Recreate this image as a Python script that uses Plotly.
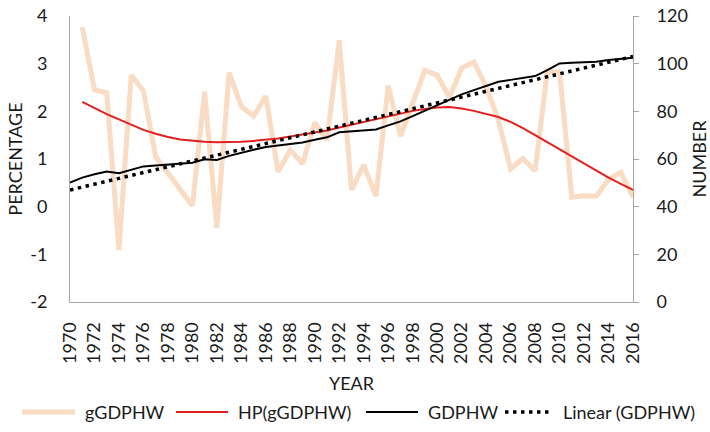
import numpy as np
import plotly.graph_objects as go

# Years on the category axis
years = list(range(1970, 2017))

# Growth rate of GDP per hour worked (%), first value is 1971
g_years = list(range(1971, 2017))
g_gdphw = [3.77, 2.45, 2.39, -0.91, 2.76, 2.43, 1.05, 0.71, 0.36, 0.02,
           2.41, -0.45, 2.81, 2.10, 1.90, 2.32, 0.73, 1.19, 0.90, 1.76,
           1.40, 3.49, 0.35, 0.87, 0.22, 2.54, 1.48, 2.17, 2.86, 2.76,
           2.29, 2.91, 3.04, 2.52, 1.82, 0.79, 1.01, 0.75, 2.85, 2.82,
           0.20, 0.23, 0.22, 0.57, 0.72, 0.20]

# Hodrick-Prescott trend of the growth rate (%)
hp_g_gdphw = [2.20, 2.07, 1.94, 1.83, 1.72, 1.61, 1.53, 1.46, 1.41, 1.38,
              1.36, 1.35, 1.35, 1.36, 1.38, 1.40, 1.43, 1.47, 1.51, 1.55,
              1.60, 1.66, 1.72, 1.78, 1.84, 1.90, 1.96, 2.01, 2.05, 2.08,
              2.09, 2.06, 2.01, 1.95, 1.88, 1.78, 1.65, 1.50, 1.35, 1.20,
              1.05, 0.90, 0.75, 0.61, 0.48, 0.35]

# GDP per hour worked (index number)
gdphw = [50.1, 52.2, 53.6, 54.7, 54.0, 55.4, 56.9, 57.3, 57.7, 58.1,
         58.4, 59.9, 59.6, 61.3, 62.7, 63.9, 65.0, 65.6, 66.2, 66.9,
         68.1, 69.1, 71.2, 71.7, 72.0, 72.4, 74.1, 75.8, 78.0, 80.3,
         82.5, 84.8, 87.1, 88.9, 90.6, 92.4, 93.2, 93.9, 94.8, 97.3,
         100.1, 100.4, 100.6, 100.8, 101.5, 102.0, 102.5]

# Axis tick values and labels
pct_ticks = [-2, -1, 0, 1, 2, 3, 4]
pct_labels = ["-2", "-1", "0", "1", "2", "3", "4"]
num_ticks = [0, 20, 40, 60, 80, 100, 120]
year_ticks = years[::2]
year_labels = [str(y) for y in year_ticks]

# Least-squares linear trendline of GDPHW
slope, intercept = np.polyfit(years, gdphw, 1)
linear_gdphw = [slope * y + intercept for y in years]

FONT = "Lato"
TEXT = "#1a1a1a"
AXIS = "#a6a6a6"
PEACH = "#F9DCC3"
RED = "#E3201E"
DOTS = "3.5px,4.5px"

W, H = 710, 432
ML, MR, MT, MB = 70, 77, 16, 130
PW, PH = W - ML - MR, H - MT - MB

series = [
    dict(x=g_years, y=g_gdphw, name="gGDPHW", axis="y",
         line=dict(color=PEACH, width=5)),
    dict(x=g_years, y=hp_g_gdphw, name="HP(gGDPHW)", axis="y",
         line=dict(color=RED, width=2)),
    dict(x=years, y=gdphw, name="GDPHW", axis="y2",
         line=dict(color="#000000", width=2)),
    dict(x=years, y=linear_gdphw, name="Linear (GDPHW)", axis="y2",
         line=dict(color="#000000", width=3.5, dash=DOTS)),
]

fig = go.Figure()
for s in series:
    fig.add_trace(go.Scatter(x=s["x"], y=s["y"], name=s["name"], mode="lines",
                             yaxis=s["axis"], line=s["line"], showlegend=False))


def px_x(px):
    return (px - ML) / PW


def px_y(py):
    return (H - MB - py) / PH


# Legend row beneath the axis title: sample line, then its label
legend_y = 412
legend_slots = [(22, 75, 83), (176, 228, 236), (366, 418, 426), (505, 553, 561)]
for s, (x0, x1, tx) in zip(series, legend_slots):
    fig.add_shape(type="line", xref="paper", yref="paper",
                  x0=px_x(x0), x1=px_x(x1), y0=px_y(legend_y), y1=px_y(legend_y),
                  line=s["line"])
    fig.add_annotation(text=s["name"], xref="paper", yref="paper",
                       x=px_x(tx), y=px_y(legend_y), xanchor="left", yanchor="middle",
                       showarrow=False, font=dict(family=FONT, size=18, color=TEXT))

fig.update_layout(
    width=W, height=H,
    margin=dict(l=ML, r=MR, t=MT, b=MB),
    paper_bgcolor="white", plot_bgcolor="white",
    font=dict(family=FONT, size=18, color=TEXT),
    showlegend=False,
    xaxis=dict(
        range=[1970, 2016], tickmode="array", tickvals=year_ticks,
        ticktext=year_labels, tickangle=-90, automargin=False,
        showgrid=False, zeroline=False, showline=True, linecolor=AXIS, linewidth=1,
        ticks="", ticklabelstandoff=12, tickfont=dict(size=18),
        title=dict(text="YEAR", standoff=14, font=dict(size=18)),
    ),
    yaxis=dict(
        range=[-2, 4], tickmode="array", tickvals=pct_ticks, ticktext=pct_labels,
        showgrid=False, zeroline=False, automargin=False,
        showline=True, linecolor=AXIS, linewidth=1, ticks="",
        ticklabelstandoff=18, tickfont=dict(size=18),
        title=dict(text="PERCENTAGE", standoff=2, font=dict(size=18)),
    ),
    yaxis2=dict(
        range=[0, 120], tickmode="array", tickvals=num_ticks,
        overlaying="y", side="right", automargin=False,
        showgrid=False, zeroline=False, showline=True, linecolor=AXIS, linewidth=1,
        ticks="outside", ticklen=5, tickcolor=AXIS, ticklabelstandoff=14,
        tickfont=dict(size=18),
        title=dict(text="NUMBER", standoff=6, font=dict(size=18)),
    ),
)

fig.write_html("out.html")
